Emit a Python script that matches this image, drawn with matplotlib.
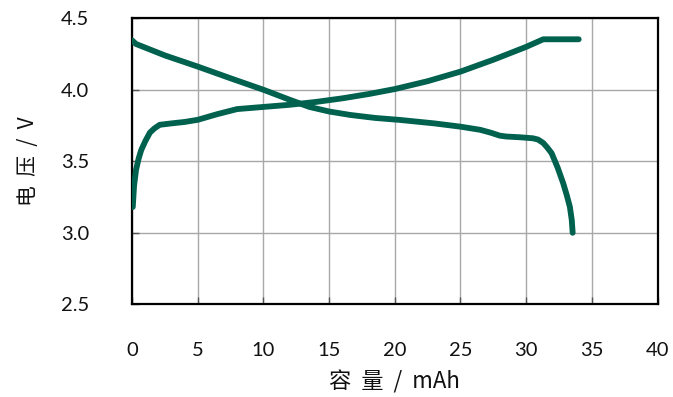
import matplotlib
matplotlib.use("Agg")
import matplotlib.pyplot as plt

# Data
charge_x = [0.05, 0.15, 0.3, 0.5, 0.7, 1.0, 1.35, 1.7, 2.1, 3.0, 4.0, 5.0, 6.5, 8.0,
            10.0, 12.0, 14.0, 16.0, 18.0, 20.0, 22.5, 25.0, 27.5, 30.0, 31.3, 34.0]
charge_v = [3.18, 3.33, 3.44, 3.52, 3.58, 3.64, 3.70, 3.73, 3.755, 3.765, 3.775, 3.79, 3.83, 3.865,
            3.88, 3.895, 3.915, 3.94, 3.97, 4.005, 4.06, 4.127, 4.21, 4.30, 4.353, 4.353]

discharge_x = [0.0, 0.3, 2.5, 5.0, 7.5, 10.0, 12.0, 13.5, 15.0, 16.6, 18.5, 20.4, 23.0, 25.0,
               26.5, 27.3, 28.0, 28.5, 29.5, 30.5, 30.9, 31.3, 31.6, 31.94, 32.4, 32.82,
               33.1, 33.33, 33.47, 33.54]
discharge_v = [4.345, 4.32, 4.24, 4.162, 4.08, 4.0, 3.93, 3.88, 3.848, 3.824, 3.803, 3.789, 3.765, 3.742,
               3.72, 3.70, 3.679, 3.673, 3.668, 3.661, 3.652, 3.628, 3.597, 3.556, 3.455, 3.346,
               3.26, 3.18, 3.09, 3.0]

x_ticks = [0, 5, 10, 15, 20, 25, 30, 35, 40]
y_ticks = [2.5, 3.0, 3.5, 4.0, 4.5]
x_label = "容  量  /  mAh"
y_label = "电  压  /  V"

color = "#00614f"

fig = plt.figure(figsize=(6.73, 3.97), dpi=100)
ax = fig.add_axes([0.1963, 0.2335, 0.7807, 0.7205])

ax.plot(charge_x, charge_v, color=color, lw=4.2, solid_joinstyle="round",
        solid_capstyle="round", zorder=3)
ax.plot(discharge_x, discharge_v, color=color, lw=4.2, solid_joinstyle="round",
        solid_capstyle="round", zorder=3)

ax.set_xlim(0, 40)
ax.set_ylim(2.5, 4.5)
ax.set_xticks(x_ticks)
ax.set_yticks(y_ticks)
ax.set_xticklabels([str(t) for t in x_ticks])
ax.set_yticklabels([f"{t:.1f}" for t in y_ticks])

ax.grid(True, color="#a8a8a8", lw=1.0, zorder=0)
ax.set_axisbelow(True)

for s in ax.spines.values():
    s.set_linewidth(1.6)
    s.set_color("black")

ax.tick_params(axis="both", direction="in", length=5, width=1.0, color="#555555",
               labelsize=14.5, pad=0)
ax.tick_params(axis="x", pad=27)
ax.tick_params(axis="y", pad=31)
for lab in ax.get_xticklabels() + ax.get_yticklabels():
    lab.set_fontfamily(["Lato", "DejaVu Sans"])
    lab.set_color("#111111")

ax.set_xlabel(x_label, fontsize=16, family=["Noto Sans CJK SC", "DejaVu Sans"],
              fontweight="light", labelpad=8, color="#111111")
ax.set_ylabel(y_label, fontsize=15, family=["Noto Sans CJK SC", "DejaVu Sans"],
              fontweight="light", labelpad=16, color="#111111")

fig.savefig("out.png", dpi=100)
